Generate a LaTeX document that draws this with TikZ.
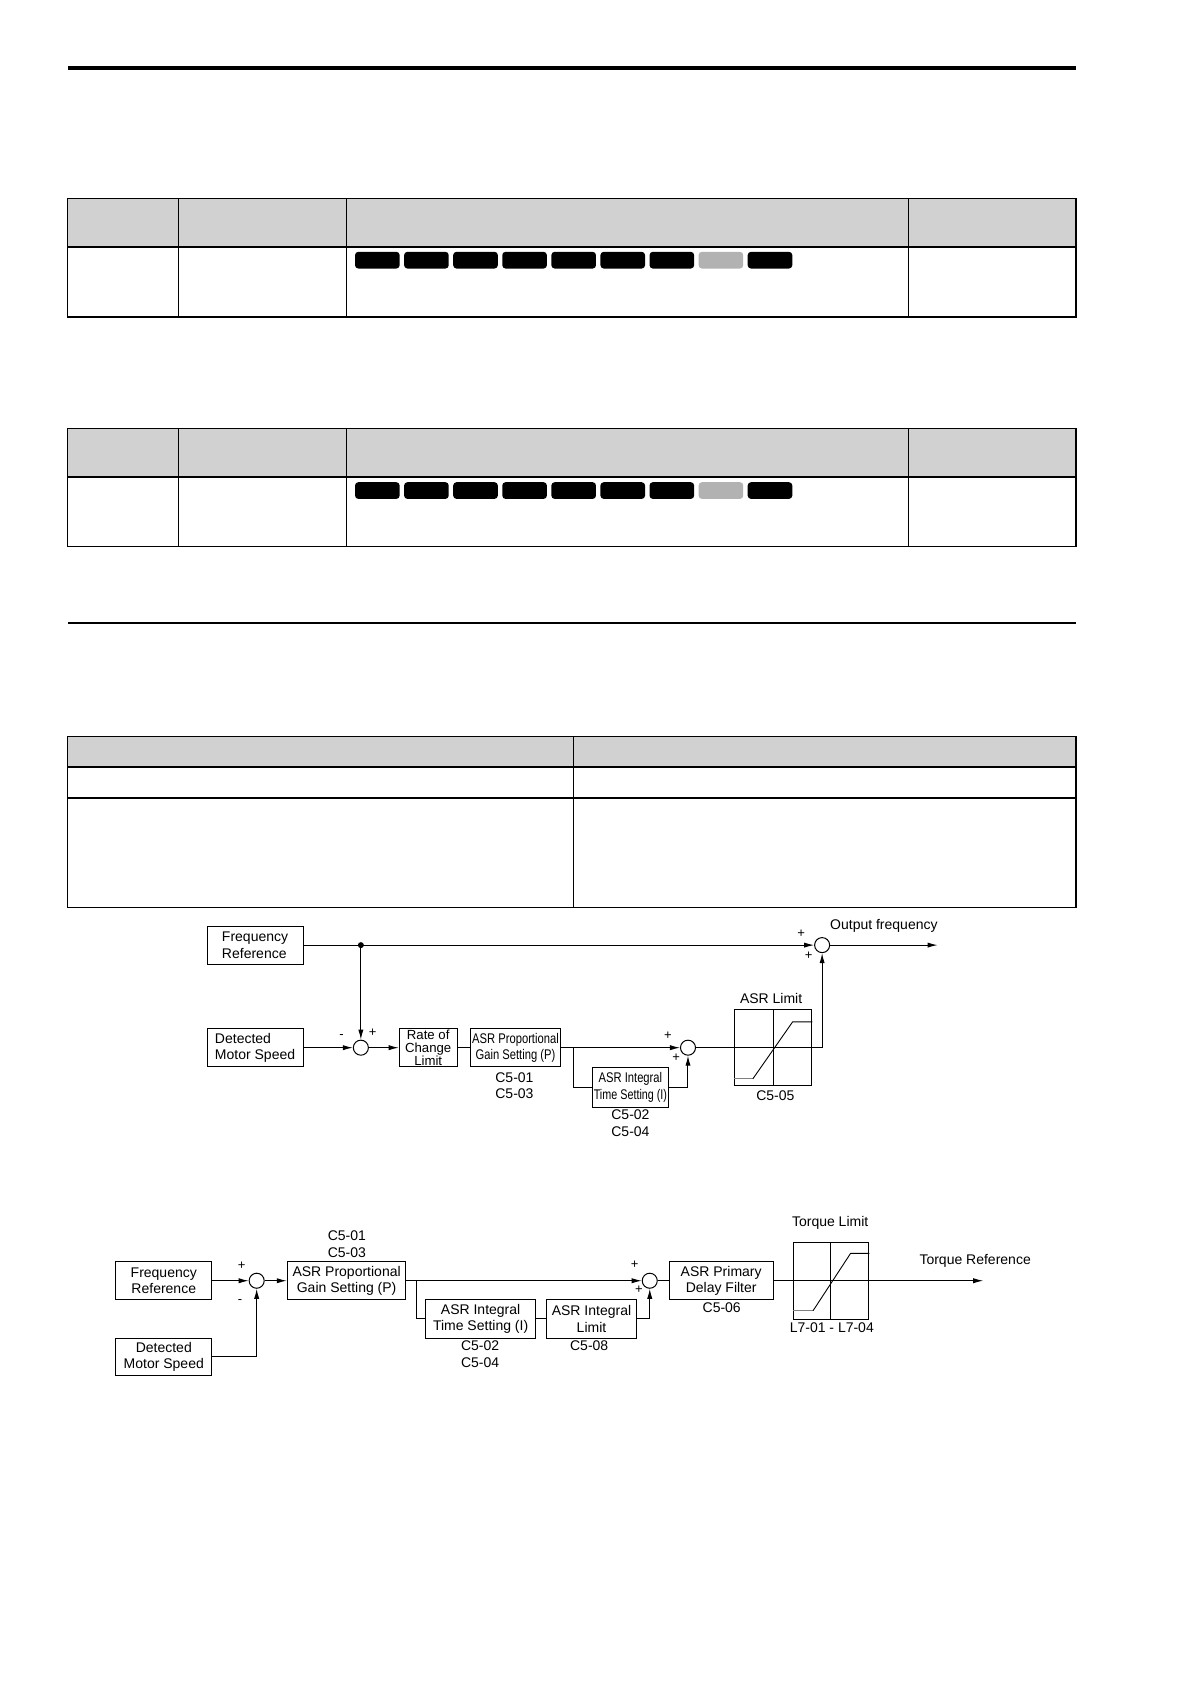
\documentclass[tikz,border=0pt]{standalone}
\usepackage{fontspec}
\usepackage{graphicx}
\setmainfont{Liberation Sans}
\usetikzlibrary{arrows.meta}
\newcommand\pxu{0.53697pt}
\newcommand\tightls{\lineskiplimit=-20pt\relax}
\begin{document}
\begin{tikzpicture}[x=0.53697pt,y=-0.53697pt,
  blk/.style={draw, line width=0.5pt, inner sep=0pt, align=center, font=\fontsize{7}{8.3}\selectfont},
  sumc/.style={draw, circle, line width=0.5pt, minimum size=14*\pxu, inner sep=0pt},
  lbl/.style={inner sep=0pt, font=\fontsize{7}{8.3}\selectfont},
  sgn/.style={inner sep=0pt, font=\fontsize{6.5}{6.5}\selectfont},
  conn/.style={line width=0.5pt},
  arr/.style={conn, -{Latex[length=5pt,width=2.6pt]}},
  hdr/.style={fill=black!18},
  tline/.style={line width=0.7pt},
  tthin/.style={line width=0.45pt},
  pill/.style={fill=black, rounded corners=1.6pt},
  pillg/.style={fill=black!30, rounded corners=1.6pt},
  axisl/.style={line width=0.5pt},
  curvel/.style={line width=0.45pt}
]
\useasboundingbox (0,0) rectangle (1109,1568);
% top rule
\draw[line width=2pt] (63,63.3) -- (1002,63.3);
% table 1
\fill[hdr] (63,185) rectangle (1002,230);
\draw[tline] (63,185) rectangle (1002,295);
\draw[tline] (63,230) -- (1002,230);
\foreach \x in {166,323,846} \draw[tthin] (\x,185) -- (\x,295);
\foreach \i in {0,...,6,8} \fill[pill] ({330.6+45.7*\i},234.5) rectangle +(41.5,15.5);
\fill[pillg] ({330.6+45.7*7},234.5) rectangle +(41.5,15.5);
% table 2
\fill[hdr] (63,399) rectangle (1002,444);
\draw[tline] (63,399) rectangle (1002,509);
\draw[tline] (63,444) -- (1002,444);
\foreach \x in {166,323,846} \draw[tthin] (\x,399) -- (\x,509);
\foreach \i in {0,...,6,8} \fill[pill] ({330.6+45.7*\i},449) rectangle +(41.5,15.5);
\fill[pillg] ({330.6+45.7*7},449) rectangle +(41.5,15.5);
% rule
\draw[line width=1.1pt] (63,580) -- (1002,580);
% table 3
\fill[hdr] (63,686) rectangle (1002,714);
\draw[tline] (63,686) rectangle (1002,845);
\draw[tline] (63,714) -- (1002,714);
\draw[tline] (63,743) -- (1002,743);
\draw[tthin] (534,686) -- (534,845);

% ================= Diagram 1 =================
\node[blk, align=left, minimum width=89.5*\pxu, minimum height=35.5*\pxu] (fr1) at (237.5,880) {Frequency\\Reference};
\node[blk, align=left, minimum width=89.5*\pxu, minimum height=35.5*\pxu] (dm1) at (237.5,975.5) {Detected\\Motor Speed};
\node[sumc] (s2) at (336,975.5) {};
\node[sumc] (s1) at (765.5,880) {};
\node[sumc] (s3) at (640.6,975.5) {};
\node[blk, minimum width=54*\pxu, minimum height=35.5*\pxu, font={\fontsize{6.6}{6.4}\selectfont\tightls}] (rc1) at (398.7,975.5) {Rate of\\Change\\Limit};
\node[blk, minimum width=84*\pxu, minimum height=35.5*\pxu] (pg1) at (480,975.5) {\scalebox{0.8}[1]{ASR Proportional}\\\scalebox{0.8}[1]{Gain Setting (P)}};
\node[blk, minimum width=70*\pxu, minimum height=37*\pxu] (it1) at (587,1012.5) {\scalebox{0.8}[1]{ASR Integral}\\\scalebox{0.77}[1]{Time Setting (I)}};
\node[draw, line width=0.5pt, minimum width=72.5*\pxu, minimum height=71*\pxu, inner sep=0pt] (al1) at (719.75,975.5) {};
\coordinate (j1) at (336,880);
\coordinate (b1) at (534,975.5);
\coordinate (o1) at (873,880);
\fill (j1) circle[radius=2.8];
\draw[arr] (fr1.east) -- (s1.west);
\draw[arr] (j1) -- (s2.north);
\draw[arr] (dm1.east) -- (s2.west);
\draw[arr] (s2.east) -- (rc1.west);
\draw[conn] (rc1.east) -- (pg1.west);
\draw[arr] (pg1.east) -- (s3.west);
\draw[conn] (b1) |- (it1.west);
\draw[arr] (it1.east) -| (s3.south);
\draw[conn] (s3.east) -- (al1.east);
\draw[arr] (al1.east) -| (s1.south);
\draw[arr] (s1.east) -- (o1);
% limiter graph
\draw[axisl] (al1.north) -- (al1.south);
\draw[curvel, black!50] (al1.west |- 0,1004.5) -- (701,1004.5);
\draw[curvel] (701,1004.5) -- (738,951.5) -- (al1.east |- 0,951.5);
% labels diagram 1
\node[lbl] (tout) at (823,862) {Output frequency};
\node[lbl] (tal) at (718,930) {ASR Limit};
\node[lbl] (c505) at (722,1020) {C5-05};
\node[lbl] (c501a) at (479,1003) {C5-01};
\node[lbl] (c503a) at (479,1018) {C5-03};
\node[lbl] (c502a) at (587,1038) {C5-02};
\node[lbl] (c504a) at (587,1054) {C5-04};
\node[sgn] (m1) at (318,965.5) {-};
\node[sgn] (p1) at (347,962) {+};
\node[sgn] (p2) at (622,964) {+};
\node[sgn] (p3) at (629.5,985) {+};
\node[sgn] (p4) at (746,869) {+};
\node[sgn] (p5) at (753,890) {+};

% ================= Diagram 2 =================
\node[blk, minimum width=89*\pxu, minimum height=35*\pxu] (fr2) at (152.5,1192.5) {Frequency\\Reference};
\node[blk, minimum width=89*\pxu, minimum height=35*\pxu] (dm2) at (152.5,1263.5) {Detected\\Motor Speed};
\node[sumc] (s4) at (239,1192.5) {};
\node[blk, minimum width=110.5*\pxu, minimum height=35*\pxu] (pg2) at (322.75,1192.5) {ASR Proportional\\Gain Setting (P)};
\node[blk, minimum width=103*\pxu, minimum height=36*\pxu] (it2) at (447.5,1228) {ASR Integral\\Time Setting (I)};
\node[blk, minimum width=84.5*\pxu, minimum height=36*\pxu] (il2) at (550.75,1228) {ASR Integral\\Limit};
\node[sumc] (s5) at (605,1192.5) {};
\node[blk, minimum width=97*\pxu, minimum height=35*\pxu] (df2) at (671.5,1192.5) {ASR Primary\\Delay Filter};
\node[draw, line width=0.5pt, minimum width=70.5*\pxu, minimum height=71.4*\pxu, inner sep=0pt] (tl2) at (773.75,1192.5) {};
\coordinate (b2) at (387.5,1192.5);
\coordinate (o2) at (915.5,1192.5);
\draw[arr] (fr2.east) -- (s4.west);
\draw[arr] (dm2.east) -| (s4.south);
\draw[arr] (s4.east) -- (pg2.west);
\draw[arr] (pg2.east) -- (s5.west);
\draw[conn] (b2) |- (it2.west);
\draw[conn] (it2.east) -- (il2.west);
\draw[arr] (il2.east) -| (s5.south);
\draw[conn] (s5.east) -- (df2.west);
\draw[arr] (df2.east) -- (o2);
% torque limit graph
\draw[axisl] (tl2.north) -- (tl2.south);
\draw[curvel, black!50] (tl2.west |- 0,1220.5) -- (757,1220.5);
\draw[curvel] (757,1220.5) -- (792,1167) -- (tl2.east |- 0,1167);
% labels diagram 2
\node[lbl] (c501b) at (323,1151) {C5-01};
\node[lbl] (c503b) at (323,1166.5) {C5-03};
\node[lbl] (c502b) at (447,1253) {C5-02};
\node[lbl] (c504b) at (447,1269) {C5-04};
\node[lbl] (c508) at (548.6,1253) {C5-08};
\node[lbl] (c506) at (672,1218) {C5-06};
\node[lbl] (ttl) at (773,1139) {Torque Limit};
\node[lbl] (tl7) at (774.5,1236) {L7-01 - L7-04};
\node[lbl] (ttr) at (908,1174) {Torque Reference};
\node[sgn] (p6) at (225,1179) {+};
\node[sgn] (m2) at (223.5,1212) {-};
\node[sgn] (p7) at (591,1178) {+};
\node[sgn] (p8) at (595,1201) {+};
\end{tikzpicture}
\end{document}
